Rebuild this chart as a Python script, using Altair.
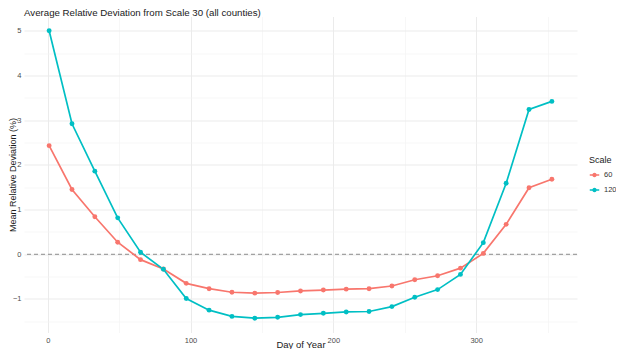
import altair as alt
import pandas as pd

days = [1, 17, 33, 49, 65, 81, 97, 113, 129, 145, 161, 177, 193, 209, 225, 241, 257, 273, 289, 305, 321, 337, 353]
scale_60 = [2.43, 1.45, 0.84, 0.27, -0.12, -0.33, -0.65, -0.77, -0.85, -0.87, -0.855, -0.82, -0.80, -0.78, -0.77, -0.71, -0.57, -0.48, -0.31, 0.02, 0.67, 1.49, 1.68]
scale_120 = [5.00, 2.92, 1.86, 0.815, 0.045, -0.335, -0.99, -1.25, -1.39, -1.43, -1.41, -1.35, -1.32, -1.29, -1.28, -1.17, -0.96, -0.79, -0.45, 0.26, 1.59, 3.24, 3.42]
scales = ["60", "120"]
colors = ["#F8766D", "#00BFC4"]
reference_line = [0]

x_ticks = [0, 50, 100, 150, 200, 250, 300, 350]
y_ticks = [-1.5, -1, -0.5, 0, 0.5, 1, 1.5, 2, 2.5, 3, 3.5, 4, 4.5, 5]

rows = []
for name, vals in zip(scales, [scale_60, scale_120]):
    for d, v in zip(days, vals):
        rows.append({"day": d, "dev": v, "Scale": name})
df = pd.DataFrame(rows)

font = "Liberation Sans"

x_enc = alt.X(
    "day:Q",
    title="Day of Year",
    scale=alt.Scale(domain=[-16.6, 370.6], nice=False, zero=False),
    axis=alt.Axis(
        values=x_ticks,
        labelExpr="datum.value % 100 == 0 ? format(datum.value, 'd') : ''",
        labelOverlap=False,
        gridColor=alt.condition("datum.value % 100 == 0", alt.value("#EBEBEB"), alt.value("#F3F3F3")),
        gridWidth=alt.condition("datum.value % 100 == 0", alt.value(1.0), alt.value(0.7)),
        domain=False, ticks=False, labelPadding=4,
        titleY=15, titleBaseline="alphabetic",
    ),
)
y_enc = alt.Y(
    "dev:Q",
    title="Mean Relative Deviation (%)",
    scale=alt.Scale(domain=[-1.75, 5.32], nice=False, zero=False),
    axis=alt.Axis(
        values=y_ticks,
        labelExpr="datum.value % 1 == 0 ? format(datum.value, 'd') : ''",
        labelOverlap=False,
        gridColor=alt.condition("datum.value % 1 == 0", alt.value("#EBEBEB"), alt.value("#F3F3F3")),
        gridWidth=alt.condition("datum.value % 1 == 0", alt.value(1.0), alt.value(0.7)),
        domain=False, ticks=False, labelPadding=3,
        titleX=-16, titleBaseline="top", titleFontSize=9,
    ),
)
color_enc = alt.Color(
    "Scale:N",
    sort=scales,
    scale=alt.Scale(domain=scales, range=colors),
    legend=alt.Legend(
        title="Scale",
        orient="none", legendX=565, legendY=139,
        symbolType="M-1,0H1M0.32,0A0.32,0.32,0,1,1,-0.32,0A0.32,0.32,0,1,1,0.32,0Z",
        symbolSize=90, symbolStrokeWidth=1.5,
        labelFontSize=7.5, titleFontSize=9, titleFontWeight="normal",
        labelFont=font, titleFont=font, labelColor="#333333", titleColor="#1a1a1a",
        rowPadding=4, titlePadding=5,
    ),
)

base = alt.Chart(df)
zero_line = alt.Chart(pd.DataFrame({"dev": reference_line})).mark_rule(
    color="#8c8c8c", strokeDash=[4, 3], strokeWidth=1
).encode(y=y_enc)
lines = base.mark_line(strokeWidth=1.7).encode(x=x_enc, y=y_enc, color=color_enc)
points = base.mark_point(filled=True, size=24, opacity=1).encode(x=x_enc, y=y_enc, color=color_enc)

chart = (
    alt.layer(zero_line, lines, points)
    .properties(
        width=553, height=316,
        title=alt.TitleParams(
            "Average Relative Deviation from Scale 30 (all counties)",
            anchor="start", frame="group", fontSize=9.7, font=font,
            fontWeight="normal", color="#1a1a1a", offset=-1,
        ),
        autosize=alt.AutoSizeParams(type="none"),
        padding={"left": 16, "top": 8.5, "right": 39, "bottom": 16},
    )
    .configure_view(stroke=None)
    .configure_axis(
        labelFont=font, titleFont=font, labelFontSize=7.5, titleFontSize=9.5,
        labelColor="#4D4D4D", titleColor="#1a1a1a", titleFontWeight="normal",
    )
)

chart.save("out.html", embed_options={"renderer": "svg", "actions": False})
